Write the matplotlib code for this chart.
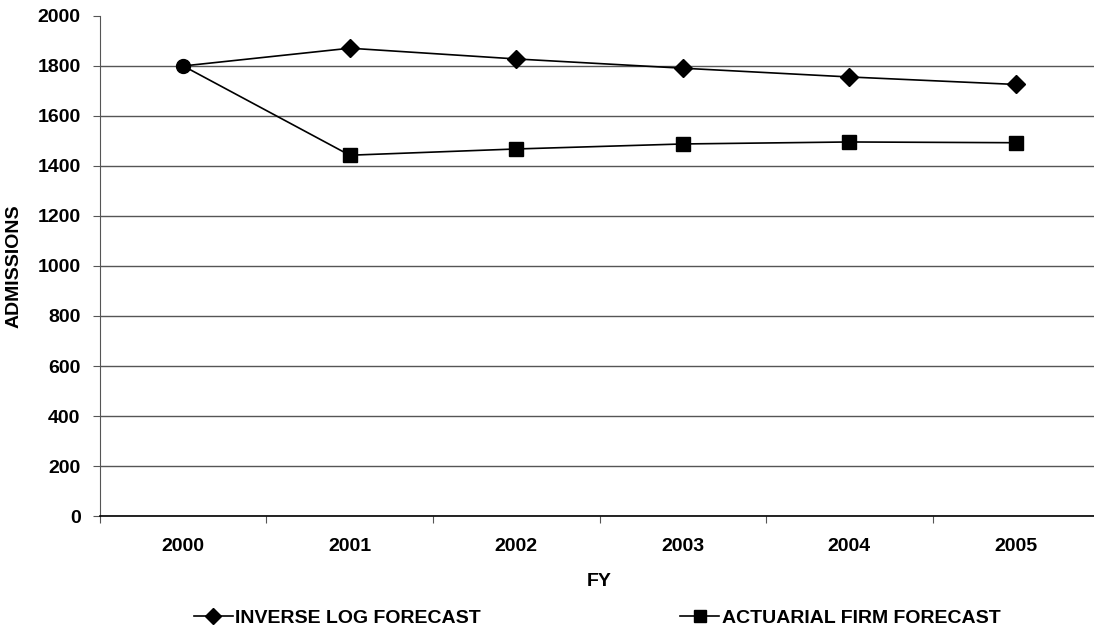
import matplotlib.pyplot as plt
from matplotlib.lines import Line2D

# data
years = ['2000', '2001', '2002', '2003', '2004', '2005']
inverse_log = [1800, 1871, 1828, 1791, 1756, 1726]
actuarial = [1800, 1443, 1468, 1488, 1496, 1493]

plt.rcParams['font.family'] = ['Liberation Sans', 'DejaVu Sans']
plt.rcParams['font.weight'] = 'bold'
FS = 14

fig = plt.figure(figsize=(10.94, 6.33), dpi=100)
ax = fig.add_axes([0.0914, 0.1848, 0.9132, 0.79])

x = list(range(len(years)))
ax.plot(x, inverse_log, color='black', lw=1.2, marker='D', markersize=9,
        markevery=list(range(1, len(x))), zorder=3)
ax.plot(x, actuarial, color='black', lw=1.2, marker='s', markersize=9.5,
        markevery=list(range(1, len(x))), zorder=3)
# shared starting point drawn as a round marker
ax.plot(x[:1], actuarial[:1], 'o', color='black', markersize=10, zorder=4)

ax.set_xlim(-0.5, len(years) - 0.5)
ax.set_ylim(0, 2000)
ax.set_yticks(range(0, 2001, 200))
ax.yaxis.grid(True, color='#555555', lw=1.0)
ax.set_axisbelow(True)
# no gridline along the top of the plot area
ax.yaxis.get_gridlines()[-1].set_visible(False)

# category boundaries as major ticks, labels at centers
ax.set_xticks([i - 0.5 for i in range(len(years) + 1)])
ax.set_xticklabels([])
ax.set_xticks(x, minor=True)
ax.set_xticklabels(years, minor=True, fontsize=FS, fontweight='bold')
ax.tick_params(axis='x', which='major', length=5, direction='out', color='#555555')
ax.tick_params(axis='x', which='minor', length=0, pad=15.5)
ax.tick_params(axis='y', length=5, direction='out', pad=9, labelsize=FS, color='#555555')
for lab in ax.get_yticklabels():
    lab.set_fontweight('bold')

for s in ['top', 'right']:
    ax.spines[s].set_visible(False)
ax.spines['left'].set_color('#555555')
ax.spines['bottom'].set_color('black')
ax.spines['bottom'].set_linewidth(1.2)

ax.set_ylabel('ADMISSIONS', fontsize=FS, fontweight='bold', labelpad=11)
ax.set_xlabel('FY', fontsize=FS, fontweight='bold', labelpad=13.5)

handles = [Line2D([], [], color='black', lw=1.2, marker='D', markersize=8),
           Line2D([], [], color='black', lw=1.2, marker='s', markersize=9)]
fig.legend(handles, ['INVERSE LOG FORECAST', 'ACTUARIAL FIRM FORECAST'],
           loc='center', bbox_to_anchor=(0.546, 0.024), ncol=2, frameon=False,
           handlelength=1.96, handletextpad=0.15, columnspacing=10.25,
           prop={'weight': 'bold', 'size': FS})

fig.savefig('out.png', dpi=100)
